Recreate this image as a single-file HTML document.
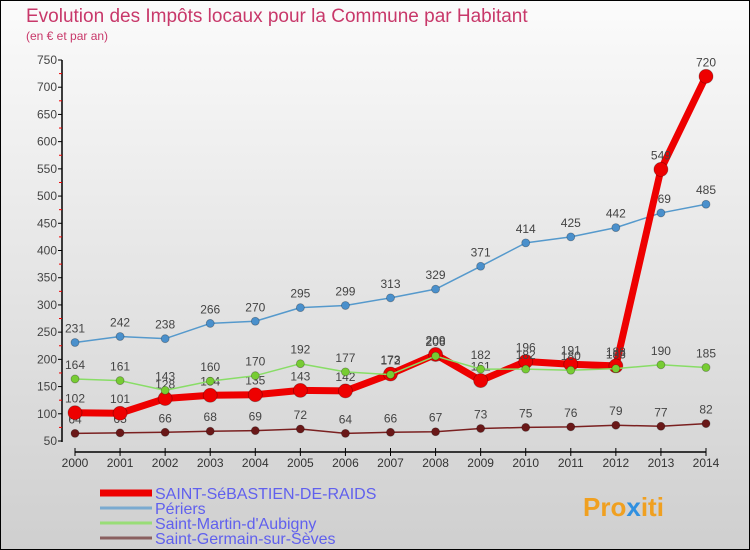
<!DOCTYPE html>
<html><head><meta charset="utf-8"><style>
html,body{margin:0;padding:0;}
body{width:750px;height:550px;overflow:hidden;font-family:"Liberation Sans",sans-serif;}
</style></head><body>
<svg id="chart" width="750" height="550" xmlns="http://www.w3.org/2000/svg" style="display:block">
<defs>
<linearGradient id="bg" x1="0" y1="0" x2="0" y2="1">
<stop offset="0" stop-color="#fbfbfb"/><stop offset="1" stop-color="#cfcfcf"/>
</linearGradient>
</defs>
<rect x="0" y="0" width="750" height="550" fill="url(#bg)" stroke="#000" stroke-width="2"/>
<text x="26" y="22" font-size="19" fill="#c8386a">Evolution des Impôts locaux pour la Commune par Habitant</text>
<text x="26" y="40" font-size="12" fill="#c8386a">(en € et par an)</text>
<g id="axes"></g>
<g id="series"></g>
<g id="legend"></g>
<text x="583" y="516" font-size="26" font-weight="bold" fill="#f0a020">Pro<tspan fill="#3090e0">x</tspan>iti</text>
</svg>
<script>
const years = ["2000","2001","2002","2003","2004","2005","2006","2007","2008","2009","2010","2011","2012","2013","2014"];
const yTicks = [50,100,150,200,250,300,350,400,450,500,550,600,650,700,750];
const redVals = [102,101,128,134,135,143,142,173,209,161,196,191,188,549,720];
const blueVals = [231,242,238,266,270,295,299,313,329,371,414,425,442,469,485];
const greenVals = [164,161,143,160,170,192,177,172,206,182,182,180,183,190,185];
const brownVals = [64,65,66,68,69,72,64,66,67,73,75,76,79,77,82];
const seriesNames = ["SAINT-SéBASTIEN-DE-RAIDS","Périers","Saint-Martin-d'Aubigny","Saint-Germain-sur-Sèves"];

const NS="http://www.w3.org/2000/svg";
const X0=75,X1=706,Y0=441,Y1=60,VMIN=50,VMAX=750;
function xs(i){return X0+(X1-X0)*i/(years.length-1);}
function ys(v){return Y0-(v-VMIN)*(Y0-Y1)/(VMAX-VMIN);}
function mk(tag,attrs,parent){const e=document.createElementNS(NS,tag);for(const k in attrs)e.setAttribute(k,attrs[k]);parent.appendChild(e);return e;}
const axes=document.getElementById('axes');
let e=mk('line',{x1:62,y1:Y1,x2:62,y2:Y0+1,stroke:'#000','stroke-width':1.5},axes);


e=mk('line',{x1:X0,y1:452,x2:X1,y2:452,stroke:'#000','stroke-width':1.5},axes);


yTicks.forEach((t,i)=>{
  const y=ys(t);
  let l=mk('line',{x1:58,y1:y,x2:62,y2:y,stroke:'#000'},axes);
  
  
  let tx=mk('text',{x:57,y:y+4,'font-size':12,fill:'#444','text-anchor':'end'},axes);
  tx.textContent=t;
  
  
  if(i<yTicks.length-1){
    let m=mk('line',{x1:59,y1:ys(t+25),x2:62,y2:ys(t+25),stroke:'#e00'},axes);
    
    
  }
});
years.forEach((yr,i)=>{
  const x=xs(i);
  let l=mk('line',{x1:x,y1:448,x2:x,y2:456,stroke:'#000'},axes);
  
  
  let tx=mk('text',{x:x,y:467,'font-size':12,fill:'#333','text-anchor':'middle'},axes);
  tx.textContent=yr;
  
  
});
const sg=document.getElementById('series');
function drawSeries(vals,color,width,r,name,dotFill){
  const g=mk('g',{},sg);
  
  
  const pts=vals.map((v,i)=>xs(i)+','+ys(v)).join(' ');
  let p=mk('polyline',{points:pts,fill:'none',stroke:color,'stroke-width':width,'stroke-linejoin':'round'},g);
  
  
  vals.forEach((v,i)=>{
    let c=mk('circle',{cx:xs(i),cy:ys(v),r:r,fill:dotFill,stroke:'rgba(0,0,0,0.3)','stroke-width':0.8},g);
    
    
    let t=mk('text',{x:xs(i),y:ys(v)-10,'font-size':12,fill:'#444','text-anchor':'middle'},g);
    t.textContent=v;
    
    
  });
}
drawSeries(brownVals,'#7a2020',1.5,4,'series-saint-germain','#6a1818');
drawSeries(blueVals,'#5599cc',1.5,4,'series-periers','#4a90cc');
drawSeries(redVals,'#ee0000',7,7,'series-saint-sebastien','#ee0000');
drawSeries(greenVals,'#88dd66',1.5,4,'series-saint-martin','#77cc33');
const lg=document.getElementById('legend');
const legColors=['#ee0000','#7aaad0','#99dd77','#8a6060'];
const legW=[7,3,3,3];
seriesNames.forEach((n,i)=>{
  const y=493+i*15;
  let l=mk('line',{x1:100,y1:y,x2:152,y2:y,stroke:legColors[i],'stroke-width':legW[i]},lg);
  
  
  let t=mk('text',{x:155,y:y+6,'font-size':16,fill:'#6060ee'},lg);
  t.textContent=n;
  
  
});
</script>
</body></html>
